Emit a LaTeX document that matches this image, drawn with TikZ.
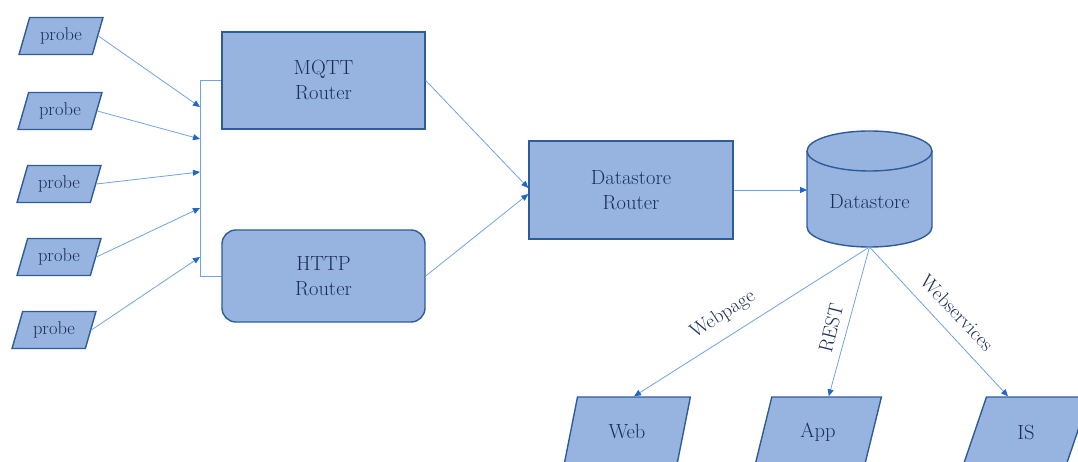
\documentclass[tikz,border=0pt]{standalone}
\usetikzlibrary{shapes.geometric,arrows.meta,calc}
\definecolor{boxfill}{HTML}{97B4E0}
\definecolor{boxdraw}{HTML}{2F5C99}
\definecolor{txt}{HTML}{1C2E58}
\definecolor{wirec}{HTML}{6FA2E6}
\definecolor{tipc}{HTML}{1F68C9}
\begin{document}
\begin{tikzpicture}[x=1pt,y=-1pt,
  box/.style={draw=boxdraw,fill=boxfill,line width=1.4pt,text=txt,align=center,
    font=\fontsize{20.5}{25}\selectfont,inner sep=0pt},
  probebox/.style={trapezium,trapezium stretches=true,trapezium left angle=66.6,
    trapezium right angle=113.4,minimum width=84pt,minimum height=37pt,
    draw=boxdraw,fill=boxfill,line width=1.4pt,text=txt,
    font=\fontsize{18.5}{22}\selectfont,inner sep=0pt},
  outbox/.style={trapezium,trapezium stretches=true,trapezium left angle=70.5,
    trapezium right angle=109.5,minimum width=127pt,minimum height=70pt,
    draw=boxdraw,fill=boxfill,line width=1.4pt,text=txt,
    font=\fontsize{20.5}{25}\selectfont,inner sep=0pt},
  wire/.style={draw=wirec,line width=0.8pt},
  arr/.style={wire,-{Triangle[length=7pt,width=6pt,color=tipc]}},
  lab/.style={text=txt,font=\fontsize{20}{24}\selectfont,inner sep=0pt}
]
\useasboundingbox (0,0) rectangle (1078,462);
\clip (0,0) rectangle (1078,462);

% probes
\node[probebox] (p1) at (61,36) {probe};
\node[probebox] (p2) at (60,111) {probe};
\node[probebox] (p3) at (59,184) {probe};
\node[probebox] (p4) at (59,257) {probe};
\node[probebox] (p5) at (54,330) {probe};

% routers
\node[box,minimum width=203pt,minimum height=97pt] (mqtt) at (323.5,80.5) {MQTT\\Router};
\node[box,rounded corners=14pt,minimum width=203pt,minimum height=92pt] (http) at (323.5,276) {HTTP\\Router};
\node[box,minimum width=204pt,minimum height=98pt] (dr) at (631,190) {Datastore\\Router};

% bus
\coordinate (bt) at (200,80.5);
\coordinate (bb) at (200,276);
\coordinate (b1) at (200,107);
\coordinate (b2) at (200,139);
\coordinate (b3) at (200,172);
\coordinate (b4) at (200,208);
\coordinate (b5) at (200,257);
\draw[wire] (mqtt.west) -- (bt) -- (bb) -- (http.west);
\draw[arr] (p1.east) -- (b1);
\draw[arr] (p2.east) -- (b2);
\draw[arr] (p3.east) -- (b3);
\draw[arr] (p4.east) -- (b4);
\draw[arr] (p5.east) -- (b5);

\draw[arr] (mqtt.east) -- ([yshift=2pt]dr.west);
\draw[arr] (http.east) -- ([yshift=-4pt]dr.west);

% datastore cylinder
\fill[boxfill] (807,151) -- (807,227) arc[start angle=180,end angle=0,x radius=62.5,y radius=20]
  -- (932,151) arc[start angle=0,end angle=-180,x radius=62.5,y radius=20] -- cycle;
\draw[boxdraw,line width=1.4pt] (807,151) -- (807,227)
  arc[start angle=180,end angle=0,x radius=62.5,y radius=20] -- (932,151);
\draw[boxdraw,line width=1.4pt] (869.5,151) ellipse [x radius=62.5,y radius=20];
\node[text=txt,font=\fontsize{20.5}{25}\selectfont,inner sep=0pt] (ds) at (869.5,202) {Datastore};
\coordinate (dsw) at (807,190);
\coordinate (dsb) at (869.5,247);
\draw[arr] (dr.east) -- (dsw);

% outputs
\node[outbox] (web) at (627,432) {Web};
\node[outbox] (app) at (818,432) {App};
\node[outbox] (is) at (1026,432) {IS};
\draw[arr] (dsb) -- ($(web.top left corner)!0.5!(web.top right corner)$);
\draw[arr] (dsb) -- ([xshift=2pt]$(app.top left corner)!0.5!(app.top right corner)$);
\draw[arr] (dsb) -- ([xshift=22pt]is.top left corner);

% labels
\node[lab,rotate=32.8] (lweb) at (723,315) {Webpage};
\node[lab,rotate=76] (lrest) at (831,328) {REST};
\node[lab,rotate=-46.3] (lws) at (957,313) {Webservices};
\end{tikzpicture}
\end{document}
